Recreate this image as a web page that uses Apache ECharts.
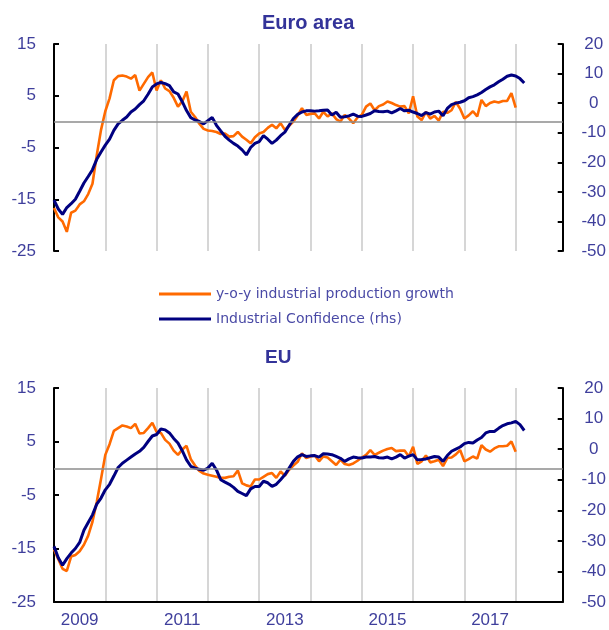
<!DOCTYPE html>
<html>
<head>
<meta charset="utf-8">
<script src="https://cdn.jsdelivr.net/npm/echarts@6/dist/echarts.min.js"></script>
<style>
  html, body { margin: 0; padding: 0; background: #fff; }
  #chart { width: 609px; height: 630px; }
</style>
</head>
<body>
<div id="chart"></div>
<script>
// months Jan 2009 .. Dec 2018
const years = [2009, 2010, 2011, 2012, 2013, 2014, 2015, 2016, 2017, 2018];
const months = [];
years.forEach(y => {
  for (let m = 1; m <= 12; m++) months.push(y + '-' + (m < 10 ? '0' + m : m));
});

// Euro area: y-o-y industrial production growth (lhs), Jan 2009 - Jan 2018
const eaIP = [
  -16.7, -18.5, -19.3, -21.3, -17.6, -17.2, -16.0, -15.4, -14.0, -12.0, -6.5, -1.6,
  2.0, 4.5, 8.0, 8.8, 8.9, 8.7, 8.3, 9.0, 6.0, 7.3, 8.6, 9.5,
  6.0, 8.0, 6.4, 5.9, 4.6, 2.9, 3.9, 5.8, 1.9, 0.9, -0.4, -1.4,
  -1.7, -1.8, -2.0, -2.4, -2.3, -2.9, -2.8, -2.0, -2.9, -3.5, -4.2, -3.0,
  -2.3, -2.0, -1.2, -0.6, -1.3, -0.3, -1.6, -0.8, 0.0, 1.2, 2.6, 1.3,
  1.5, 1.6, 0.6, 1.9, 1.0, 1.6, 0.5, 0.0, 1.3, 0.6, -0.3, 0.8,
  1.3, 2.9, 3.5, 2.2, 3.0, 3.3, 3.9, 3.6, 3.2, 2.9, 3.0, 1.6,
  4.9, 1.0, 0.3, 1.9, 0.6, 1.1, 0.2, 1.9, 1.7, 2.2, 3.8, 2.5,
  0.6, 1.2, 2.0, 1.0, 4.2, 3.0, 3.6, 3.9, 3.7, 4.0, 4.0, 5.5,
  2.7
];
// Euro area: industrial confidence (rhs), Jan 2009 - Mar 2018
const eaConf = [
  -32.8, -35.8, -37.6, -35.3, -34.0, -32.5, -29.8, -27.0, -24.8, -22.5, -19.0, -16.5,
  -14.2, -12.2, -9.2, -7.0, -5.8, -4.7, -3.0, -2.0, -0.5, 0.8, 3.0, 5.5,
  6.5, 7.0, 6.6, 5.9, 3.8, 3.1, 0.5, -2.5, -4.9, -5.7, -6.2, -7.0,
  -5.9, -4.8, -7.5, -9.4, -11.2, -12.5, -13.6, -14.5, -15.8, -17.5, -15.0, -13.6,
  -13.0, -11.0, -12.2, -13.6, -12.5, -11.0, -9.8, -7.5, -5.2, -3.8, -3.0, -2.6,
  -2.6, -2.7, -2.6, -2.4, -2.3, -4.0, -3.1, -4.8, -4.6, -4.3, -3.7, -4.4,
  -4.5, -4.0, -3.5, -2.6, -2.8, -2.9, -2.7, -3.3, -2.6, -1.8, -2.6, -2.4,
  -3.0, -3.5, -4.2, -3.2, -3.7, -3.0, -2.7, -4.3, -1.8, -0.5, 0.0, 0.3,
  0.8, 1.8, 2.2, 2.8, 3.6, 4.6, 5.5, 6.2, 7.2, 8.1, 9.1, 9.5,
  9.2, 8.3, 6.8
];
// EU: y-o-y industrial production growth (lhs)
const euIP = [
  -15.2, -17.0, -18.8, -19.2, -16.5, -16.2, -15.5, -14.3, -12.6, -10.0, -6.3, -2.0,
  2.5, 4.5, 7.0, 7.5, 8.0, 7.8, 7.5, 8.3, 6.5, 6.6, 7.5, 8.5,
  6.8, 6.6, 5.3, 4.6, 3.3, 2.5, 3.5, 4.2, 1.7, 0.5, -0.5, -1.0,
  -1.2, -1.4, -1.6, -1.8, -1.8, -1.6, -1.5, -0.4, -2.8, -3.2, -3.4, -2.1,
  -2.1, -1.6, -1.1, -0.9, -1.8, -0.6, -1.4, -0.3, 0.5, 1.2, 2.8, 1.9,
  2.2, 2.4, 1.3, 2.2, 2.0, 1.3, 0.6, 1.6, 0.8, 0.6, 0.9, 1.4,
  2.0, 2.5, 3.4, 2.5, 2.9, 3.3, 3.6, 3.8, 3.2, 3.3, 3.3, 2.2,
  4.0, 0.8, 1.3, 2.4, 1.1, 1.3, 1.6, 0.4, 1.9, 2.0, 2.6, 3.4,
  1.3, 1.7, 2.2, 1.8, 4.3, 3.5, 3.1, 3.7, 4.1, 4.1, 4.2, 5.0,
  3.1
];
// EU: industrial confidence (rhs)
const euConf = [
  -31.8, -35.5, -38.0, -35.8, -34.0, -32.5, -30.5, -26.5, -24.0, -21.5, -18.0, -16.0,
  -13.3, -11.5, -8.8, -6.0, -4.6, -3.6, -2.6, -1.6, -0.7, 0.6, 2.5, 4.3,
  4.8, 6.6, 6.3, 5.3, 3.5, 2.0, -0.5, -3.5, -5.6, -6.2, -6.6, -6.9,
  -6.2, -4.6, -6.8, -10.0, -10.8, -11.5, -12.5, -13.8, -14.5, -15.2, -13.0, -12.2,
  -12.2, -10.5, -11.0, -12.2, -11.5, -10.0, -8.4, -6.2, -4.0, -2.5, -1.8, -2.4,
  -2.2, -2.1, -2.6, -1.5, -1.6, -1.8, -2.4, -3.0, -4.0, -3.2, -2.6, -2.8,
  -2.9, -2.6, -2.6, -2.4, -2.8, -2.9, -2.6, -3.2, -2.6, -1.8, -2.9, -2.3,
  -1.8, -3.5, -3.4, -3.2, -2.8, -2.4, -2.6, -4.0, -2.1, -0.7, 0.0, 0.7,
  1.8, 2.2, 2.0, 3.0, 3.8, 5.3, 5.8, 5.8, 6.8, 7.7, 8.3, 8.6,
  9.1, 8.0, 6.1
];

const ipName = 'y-o-y industrial production growth';
const confName = 'Industrial Confidence (rhs)';
const orange = '#ff6a00';
const navy = '#000080';
const labelBlue = '#3f3f9c';
const tickFont = 'Liberation Sans, Arial, sans-serif';

const chart = echarts.init(document.getElementById('chart'));

// x axis: months, year grid lines every January
function monthAxis(gridIndex, withLabels) {
  return {
    type: 'category',
    gridIndex: gridIndex,
    data: months,
    boundaryGap: false,
    axisLine: { show: withLabels, onZero: false, lineStyle: { color: '#000', width: 2 } },
    axisTick: { show: false },
    axisLabel: {
      show: withLabels,
      interval: (i) => i % 24 === 6,
      formatter: (v) => v.slice(0, 4),
      color: labelBlue,
      fontSize: 17,
      fontFamily: tickFont,
      margin: 10
    },
    splitLine: {
      show: true,
      interval: (i) => i > 0 && i % 12 === 0,
      lineStyle: { color: '#c8c8c8', width: 1.5 }
    }
  };
}

function leftAxis(gridIndex) {
  return {
    type: 'value',
    gridIndex: gridIndex,
    position: 'left',
    min: -25,
    max: 15,
    interval: 10,
    axisLine: { show: true, lineStyle: { color: '#000', width: 2 } },
    axisTick: { show: true, inside: true, length: 5, lineStyle: { color: '#000', width: 2 } },
    axisLabel: { color: labelBlue, fontSize: 17, fontFamily: tickFont, margin: 18 },
    splitLine: { show: false }
  };
}

function rightAxis(gridIndex) {
  return {
    type: 'value',
    gridIndex: gridIndex,
    position: 'right',
    min: -50,
    max: 20,
    interval: 10,
    axisLine: { show: true, lineStyle: { color: '#000', width: 2 } },
    axisTick: { show: true, inside: true, length: 5, lineStyle: { color: '#000', width: 2 } },
    axisLabel: { color: labelBlue, fontSize: 17, fontFamily: tickFont, margin: 31, align: 'center' },
    splitLine: { show: false }
  };
}

const zeroLine = {
  silent: true,
  symbol: 'none',
  label: { show: false },
  lineStyle: { color: '#8c8c8c', width: 1.5, type: 'solid' },
  data: [{ yAxis: 0 }]
};

function ipSeries(data, xi, yi) {
  return {
    name: ipName, type: 'line', xAxisIndex: xi, yAxisIndex: yi,
    data: data, symbol: 'none',
    lineStyle: { color: orange, width: 2.6 }, itemStyle: { color: orange },
    markLine: zeroLine
  };
}
function confSeries(data, xi, yi) {
  return {
    name: confName, type: 'line', xAxisIndex: xi, yAxisIndex: yi,
    data: data, symbol: 'none',
    lineStyle: { color: navy, width: 3 }, itemStyle: { color: navy }
  };
}

const titleStyle = { fontFamily: tickFont, fontWeight: 'bold', fontSize: 20, color: '#333399' };

const option = {
  backgroundColor: '#fff',
  animation: false,
  title: [
    { text: 'Euro area', left: 262, top: 13, padding: 0, textStyle: titleStyle },
    { text: 'EU', left: 265, top: 348, padding: 0, textStyle: { ...titleStyle, fontSize: 19 } }
  ],
  legend: {
    data: [ipName, confName],
    icon: 'rect',
    orient: 'vertical',
    left: 159,
    top: 287,
    padding: 0,
    itemWidth: 52,
    itemHeight: 3,
    itemGap: 11,
    textStyle: { fontFamily: 'DejaVu Sans', fontSize: 14, color: '#4a4aa6' }
  },
  grid: [
    { left: 54, right: 46, top: 44, height: 207 },
    { left: 54, right: 46, top: 388, height: 214 }
  ],
  xAxis: [monthAxis(0, false), monthAxis(1, true)],
  yAxis: [leftAxis(0), rightAxis(0), leftAxis(1), rightAxis(1)],
  series: [
    ipSeries(eaIP, 0, 0),
    confSeries(eaConf, 0, 1),
    ipSeries(euIP, 1, 2),
    confSeries(euConf, 1, 3)
  ]
};

chart.setOption(option);
window.addEventListener('resize', function () {
  chart.resize();
});
</script>
</body>
</html>
